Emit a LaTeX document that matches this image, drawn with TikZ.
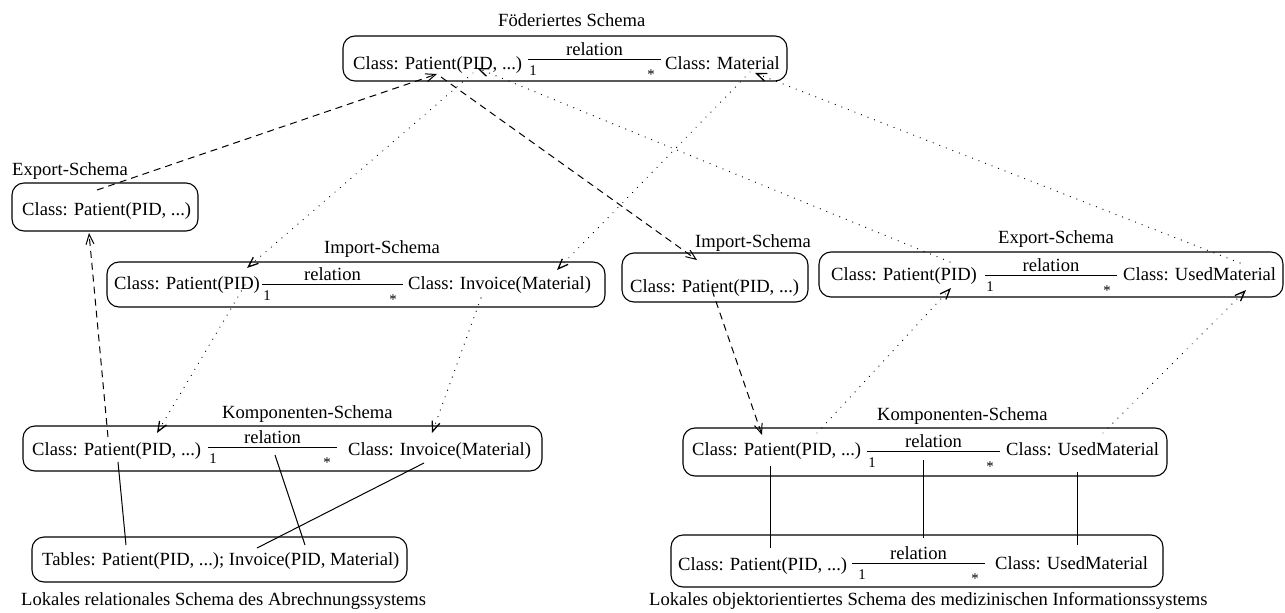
\documentclass[tikz,border=0pt]{standalone}
\usepackage{fontspec}
\setmainfont{Liberation Serif}
\usetikzlibrary{arrows.meta}

% a rounded schema box spanning (x1,y1)-(x2,y2)
\newcommand{\schemabox}[5]{%
  \node[box, minimum width={(#4-#2)*1pt}, minimum height={(#5-#3)*1pt}]
    (#1) at ({(#2+#4)/2},{(#3+#5)/2}) {};}

% a 1:* association line from x1 to x2 at height y; #5 = offset of the "1"
\newcommand{\umlassoc}[5]{%
  \coordinate (#1-a) at (#2,#4);
  \coordinate (#1-b) at (#3,#4);
  \draw[assoc] (#1-a) -- (#1-b);
  \node[txt, anchor=base] (#1-rel) at ({(#2+#3)/2},{#4-4}) {relation};
  \node[mult, anchor=base] (#1-one) at ({#2+#5},{#4+16}) {1};
  \node[mult, anchor=base] (#1-many) at ({#3-10},{#4+20}) {*};}

\begin{document}
\begin{tikzpicture}[x=1pt, y=-1pt,
  font=\fontsize{18.6}{22}\selectfont,
  box/.style={draw, rounded corners=12pt, line width=1.1pt, inner sep=0pt},
  txt/.style={inner sep=0pt},
  mult/.style={inner sep=0pt, font=\fontsize{14.8}{17}\selectfont},
  assoc/.style={line width=1pt},
  link/.style={line width=1pt},
  >={Straight Barb[length=10pt,width=8pt]},
  imp/.style={line width=1pt, dash pattern=on 7pt off 5pt, ->},
  dep/.style={line width=1.3pt, line cap=round, dash pattern=on 0.01pt off 7pt, ->}]

\useasboundingbox (0,0) rectangle (1285,613);

% ---------- federated schema ----------
\node[txt, anchor=base west] (t-fed) at (498,26.5) {Föderiertes Schema};
\schemabox{F}{343}{36}{787}{81}
\node[txt, anchor=base west] (f-pat) at (353,69) {Class: Patient(PID, ...)};
\umlassoc{f}{528}{661}{59}{5}
\node[txt, anchor=base west] (f-mat) at (665,69) {Class: Material};

% ---------- billing system ----------
\node[txt, anchor=base west] (t-le) at (12,175.5) {Export-Schema};
\schemabox{LE}{12}{183}{198}{231}
\node[txt, anchor=base west] (le-pat) at (22,215.5) {Class: Patient(PID, ...)};

\node[txt, anchor=base west] (t-li) at (324,253.5) {Import-Schema};
\schemabox{LI}{107}{262}{605}{307}
\node[txt, anchor=base west] (li-pat) at (114,289.5) {Class: Patient(PID)};
\umlassoc{li}{262}{403}{284}{5}
\node[txt, anchor=base west] (li-inv) at (408,289.5) {Class: Invoice(Material)};

\node[txt, anchor=base west] (t-lk) at (222,418.5) {Komponenten-Schema};
\schemabox{LK}{23}{426}{542}{471}
\node[txt, anchor=base west] (lk-pat) at (32,455.5) {Class: Patient(PID, ...)};
\umlassoc{lk}{208}{337}{447}{5}
\node[txt, anchor=base west] (lk-inv) at (348,455.5) {Class: Invoice(Material)};

\schemabox{LB}{32}{537}{407}{582}
\node[txt, anchor=base west] (lb-tab) at (42,565.5) {Tables: Patient(PID, ...); Invoice(PID, Material)};
\node[txt, anchor=base west] (t-lb) at (21,605.5) {Lokales relationales Schema des Abrechnungssystems};

% ---------- medical information system ----------
\node[txt, anchor=base west] (t-ri) at (695,247.5) {Import-Schema};
\schemabox{RI}{622}{253}{808}{302}
\node[txt, anchor=base west] (ri-pat) at (630,292.5) {Class: Patient(PID, ...)};

\node[txt, anchor=base west] (t-re) at (998,243.5) {Export-Schema};
\schemabox{RE}{819}{252}{1283}{297}
\node[txt, anchor=base west] (re-pat) at (831,280.5) {Class: Patient(PID)};
\umlassoc{re}{985}{1117}{275}{5}
\node[txt, anchor=base west] (re-mat) at (1123,280.5) {Class: UsedMaterial};

\node[txt, anchor=base west] (t-rk) at (877,420.5) {Komponenten-Schema};
\schemabox{RK}{683}{428}{1167}{476}
\node[txt, anchor=base west] (rk-pat) at (692,455.5) {Class: Patient(PID, ...)};
\umlassoc{rk}{867}{1000}{451}{5}
\node[txt, anchor=base west] (rk-mat) at (1006,455.5) {Class: UsedMaterial};

\schemabox{RB}{671}{535}{1163}{587}
\node[txt, anchor=base west] (rb-pat) at (678,570.5) {Class: Patient(PID, ...)};
\umlassoc{rb}{852}{985}{563}{10}
\node[txt, anchor=base west] (rb-mat) at (995,569.5) {Class: UsedMaterial};
\node[txt, anchor=base west] (t-rb) at (649,605.5) {Lokales objektorientiertes Schema des medizinischen Informationssystems};

% ---------- connector end points ----------
\coordinate (le-out)  at (97,190);   \coordinate (f-in1)  at (437,74);
\coordinate (lk-out)  at (108,437);  \coordinate (le-in)  at (89,233);
\coordinate (f-out1)  at (441,77);   \coordinate (ri-in)  at (697,260);
\coordinate (ri-out)  at (712,290);  \coordinate (rk-in)  at (762,435);
\coordinate (f-out2)  at (473,73);   \coordinate (li-in1) at (247,268);
\coordinate (li-out1) at (245,285);  \coordinate (lk-in1) at (157,433);
\coordinate (f-out3)  at (750,72);   \coordinate (li-in2) at (557,270);
\coordinate (li-out2) at (481,298);  \coordinate (lk-in2) at (432,433);
\coordinate (re-out1) at (950,262);  \coordinate (f-in2)  at (477,68);
\coordinate (re-out2) at (1240,263); \coordinate (f-in3)  at (755,73);
\coordinate (rk-out1) at (817,433);  \coordinate (re-in1) at (951,288);
\coordinate (rk-out2) at (1103,433); \coordinate (re-in2) at (1246,290);

% import/export flow (dashed)
\draw[imp] (le-out) -- (f-in1);
\draw[imp] (lk-out) -- (le-in);
\draw[imp] (f-out1) -- (ri-in);
\draw[imp] (ri-out) -- (rk-in);

% derivations (dotted)
\draw[dep] (f-out2) -- (li-in1);
\draw[dep] (li-out1) -- (lk-in1);
\draw[dep] (f-out3) -- (li-in2);
\draw[dep] (li-out2) -- (lk-in2);
\draw[dep] (re-out1) -- (f-in2);
\draw[dep] (re-out2) -- (f-in3);
\draw[dep] (rk-out1) -- (re-in1);
\draw[dep] (rk-out2) -- (re-in2);

% mappings to the local schemas (solid)
\coordinate (lk-m1) at (118,462); \coordinate (lb-m1) at (126,545);
\coordinate (lk-m2) at (275,455); \coordinate (lb-m2) at (305,545);
\coordinate (lk-m3) at (424,463); \coordinate (lb-m3) at (257,548);
\coordinate (rk-m1) at (770,466); \coordinate (rb-m1) at (770,548);
\coordinate (rk-m2) at (923,460); \coordinate (rb-m2) at (923,538);
\coordinate (rk-m3) at (1077,472); \coordinate (rb-m3) at (1077,545);
\draw[link] (lk-m1) -- (lb-m1);
\draw[link] (lk-m2) -- (lb-m2);
\draw[link] (lk-m3) -- (lb-m3);
\draw[link] (rk-m1) -- (rb-m1);
\draw[link] (rk-m2) -- (rb-m2);
\draw[link] (rk-m3) -- (rb-m3);
\end{tikzpicture}
\end{document}
